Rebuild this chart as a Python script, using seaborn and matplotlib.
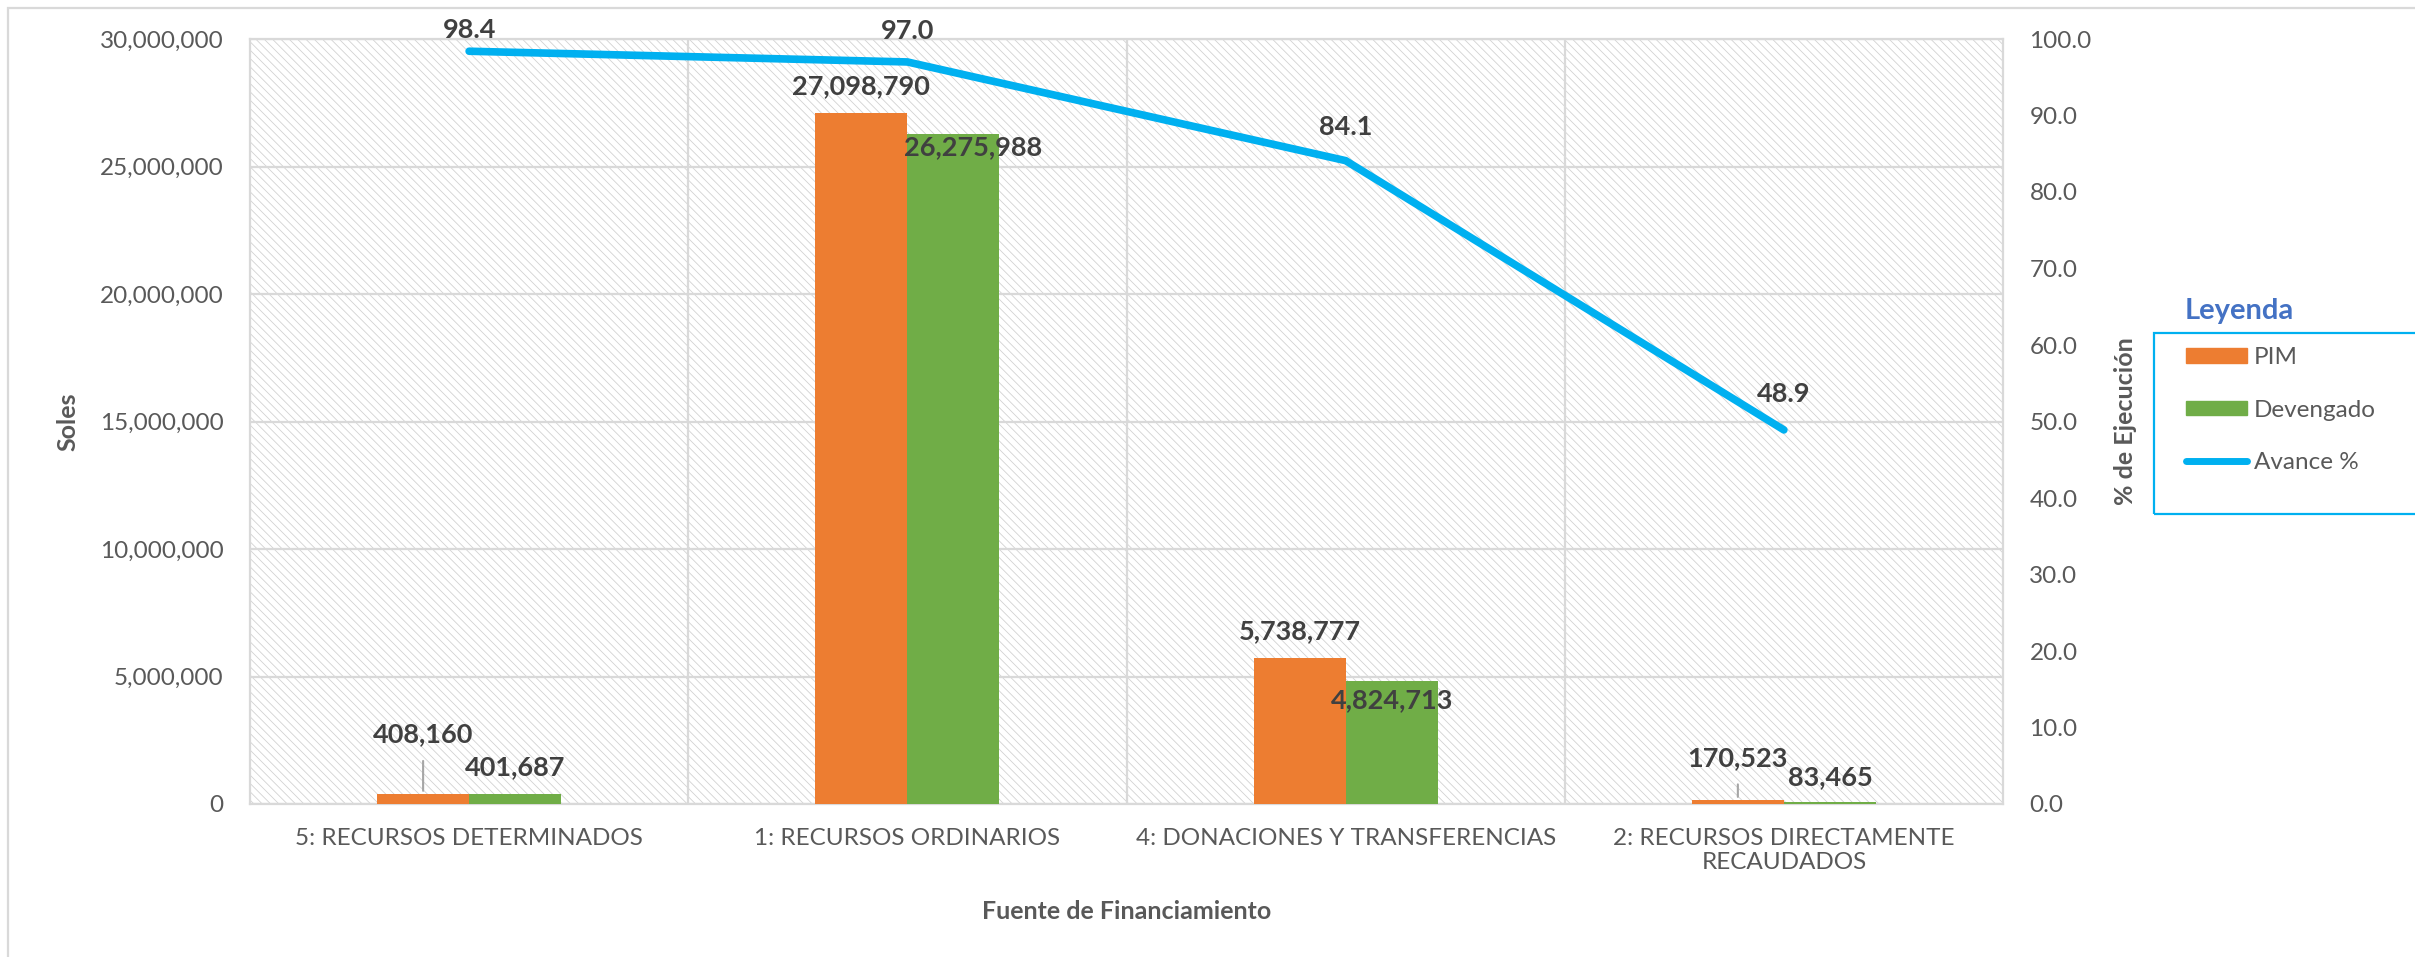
import numpy as np
import pandas as pd
import matplotlib
matplotlib.use("Agg")
import matplotlib.pyplot as plt
import matplotlib.patches as mpatches
from matplotlib.lines import Line2D
import seaborn as sns

# ---------------- data ----------------
categorias = ["5: RECURSOS DETERMINADOS", "1: RECURSOS ORDINARIOS",
              "4: DONACIONES Y TRANSFERENCIAS", "2: RECURSOS DIRECTAMENTE\nRECAUDADOS"]
pim = [408160, 27098790, 5738777, 170523]
devengado = [401687, 26275988, 4824713, 83465]
avance = [98.4, 97.0, 84.1, 48.9]
series_names = ["PIM", "Devengado", "Avance %"]
y_left_ticks = [0, 5000000, 10000000, 15000000, 20000000, 25000000, 30000000]
y_right_ticks = [0, 10, 20, 30, 40, 50, 60, 70, 80, 90, 100]

# ---------------- style ----------------
C_PIM = "#ED7D31"
C_DEV = "#70AD47"
C_LINE = "#00B0F0"
C_GRID = "#D9D9D9"
C_HATCH = "#D2D2D2"
C_TICK = "#595959"
C_LABEL = "#404040"
# label offsets (points) relative to bar tops / line points
off_pim = [(0, 42.5), (0, 19.5), (0, 19), (0, 30)]
off_dev = [(0, 19), (14, -9.5), (0, -13.5), (0, 18)]
off_line = [15, 22, 24.5, 26]
leader_pim = [True, False, False, True]

sns.set_theme(style="white")
plt.rcParams["font.family"] = ["Lato", "DejaVu Sans"]
plt.rcParams["hatch.linewidth"] = 0.6

W, H = 2415, 957
fig = plt.figure(figsize=(W / 100, H / 100), dpi=100)
fig.patch.set_facecolor("white")
ax = fig.add_axes([250 / W, 1 - 804 / H, (2003 - 250) / W, (804 - 39) / H])
ax.patch.set_facecolor("white")
# hatched plot-area background
ax.add_patch(mpatches.Rectangle((0, 0), 1, 1, transform=ax.transAxes,
                                facecolor="none", edgecolor=C_HATCH, lw=0,
                                hatch="\\\\\\\\", zorder=0))

df = pd.DataFrame({
    "Fuente": categorias * 2,
    "Serie": [series_names[0]] * 4 + [series_names[1]] * 4,
    "Soles": pim + devengado,
})
sns.barplot(data=df, x="Fuente", y="Soles", hue="Serie", order=categorias,
            hue_order=series_names[:2], palette=[C_PIM, C_DEV], width=0.42,
            saturation=1, ax=ax, legend=False, zorder=3, linewidth=0,
            edgecolor="none")

ax.set_xlim(-0.5, 3.5)
ax.set_ylim(0, 30000000)
ax.set_yticks(y_left_ticks)
ax.set_yticklabels([f"{v:,.0f}" for v in y_left_ticks])
ax.grid(False)
for v in y_left_ticks:
    ax.axhline(v, color=C_GRID, lw=1.6, zorder=1)
for xv in [0.5, 1.5, 2.5]:
    ax.axvline(xv, color=C_GRID, lw=1.6, zorder=1)
for s in ax.spines.values():
    s.set_color(C_GRID)
    s.set_linewidth(1.6)
ax.tick_params(axis="y", length=0, pad=19, labelsize=17.5, labelcolor=C_TICK)
ax.tick_params(axis="x", length=0, pad=17, labelsize=17.5, labelcolor=C_TICK)
ax.set_xlabel("Fuente de Financiamiento", fontsize=18, fontweight="bold", color=C_TICK)
ax.set_ylabel("Soles", fontsize=18, fontweight="bold", color=C_TICK)
ax.xaxis.set_label_coords(0.5, -0.125)
ax.yaxis.set_label_coords(-0.097, 0.5)

# bar labels
for cont, vals, offs, leaders in [(ax.containers[0], pim, off_pim, leader_pim),
                                   (ax.containers[1], devengado, off_dev, [False] * 4)]:
    for bar, v, off, lead in zip(cont, vals, offs, leaders):
        xc = bar.get_x() + bar.get_width() / 2
        kw = {}
        if lead:
            kw["arrowprops"] = dict(arrowstyle="-", color="#A6A6A6", lw=1.5,
                                    shrinkA=8, shrinkB=2)
        ax.annotate(f"{v:,.0f}", xy=(xc, bar.get_height()), xytext=off,
                    textcoords="offset points", ha="center", va="center",
                    fontsize=19.5, fontweight="bold", color=C_LABEL, zorder=5, **kw)

# line on secondary axis
ax2 = ax.twinx()
sns.lineplot(x=np.arange(len(avance)), y=avance, color=C_LINE, lw=5.5,
             ax=ax2, solid_capstyle="round", solid_joinstyle="miter", zorder=4)
ax2.set_ylim(0, 100)
ax2.set_yticks(y_right_ticks)
ax2.set_yticklabels([f"{v:.1f}" for v in y_right_ticks])
ax2.tick_params(axis="y", length=0, pad=19, labelsize=17.5, labelcolor=C_TICK)
ax2.set_ylabel("% de Ejecución", fontsize=18, fontweight="bold", color=C_TICK)
ax2.yaxis.set_label_coords(1.0633, 0.5)
for s in ax2.spines.values():
    s.set_visible(False)
ax2.grid(False)
for i, (v, o) in enumerate(zip(avance, off_line)):
    ax2.annotate(f"{v:.1f}", xy=(i, v), xytext=(0, o), textcoords="offset points",
                 ha="center", va="center", fontsize=19.5, fontweight="bold",
                 color=C_LABEL, annotation_clip=False)

# legend
handles = [mpatches.Patch(color=C_PIM), mpatches.Patch(color=C_DEV),
           Line2D([0], [0], color=C_LINE, lw=5, solid_capstyle="round")]
fig.legend(handles, series_names, loc="upper left",
           bbox_to_anchor=(2186 / W, 1 - 347 / H), frameon=False,
           borderpad=0, borderaxespad=0, fontsize=17.5, labelcolor=C_TICK,
           handlelength=2.5, handleheight=0.55, handletextpad=0.3,
           labelspacing=1.3)
fig.add_artist(mpatches.Rectangle((2154 / W, 1 - 514 / H), 0.3, (514 - 333) / H,
                                  transform=fig.transFigure, fill=False,
                                  edgecolor=C_LINE, lw=1.6))
fig.text(2239 / W, 1 - 311 / H, "Leyenda", ha="center", va="center",
         color="#4472C4", fontweight="bold", fontsize=21)

# outer chart border
fig.add_artist(mpatches.Rectangle((8 / W, -0.1), 1.2, 1.1 - 8 / H,
                                  transform=fig.transFigure, fill=False,
                                  edgecolor=C_GRID, lw=1.6))

fig.savefig("out.png", dpi=100)
